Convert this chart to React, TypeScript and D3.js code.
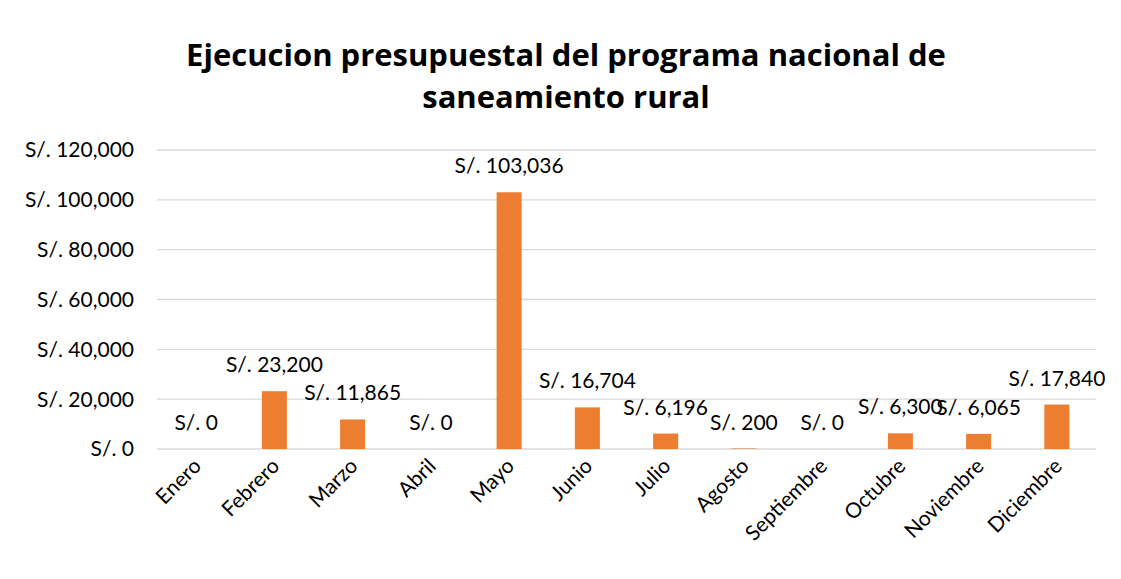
import { useRef, useEffect } from "react";
import * as d3 from "d3";

const months = [
  "Enero", "Febrero", "Marzo", "Abril", "Mayo", "Junio",
  "Julio", "Agosto", "Septiembre", "Octubre", "Noviembre", "Diciembre",
];
const values = [0, 23200, 11865, 0, 103036, 16704, 6196, 200, 0, 6300, 6065, 17840];
const yTicks = [0, 20000, 40000, 60000, 80000, 100000, 120000];
const titleLines = [
  "Ejecucion presupuestal del programa nacional de",
  "saneamiento rural",
];

const W = 1121;
const H = 579;
const FONT = "Lato, 'Open Sans', sans-serif";

const fmt = (v: number) => `S/. ${d3.format(",")(v)}`;

export default function App() {
  const svgRef = useRef<SVGSVGElement>(null);

  useEffect(() => {
    const svg = d3.select(svgRef.current);
    svg.selectAll("*").remove();

    const margin = { top: 150, right: 25, bottom: 130, left: 157 };
    const innerWidth = W - margin.left - margin.right;
    const innerHeight = H - margin.top - margin.bottom;

    // chart background + border
    svg.append("rect")
      .attr("x", 7.5).attr("y", 7.5)
      .attr("width", W - 15).attr("height", H - 8)
      .attr("fill", "#fff")
      .attr("stroke", "#c8c8c8");

    // title
    svg.append("text")
      .attr("x", 566)
      .attr("y", 66)
      .attr("text-anchor", "middle")
      .attr("font-family", "'Open Sans', sans-serif")
      .attr("font-weight", "bold")
      .attr("font-size", 31)
      .attr("fill", "#000")
      .selectAll("tspan")
      .data(titleLines)
      .join("tspan")
      .attr("x", 566)
      .attr("dy", (_, i) => (i === 0 ? 0 : 42))
      .text((d) => d);

    const g = svg.append("g")
      .attr("transform", `translate(${margin.left},${margin.top})`);

    const x = d3.scaleBand<string>()
      .domain(months)
      .range([0, innerWidth])
      .paddingInner(0.68)
      .paddingOuter(0.34);

    const y = d3.scaleLinear()
      .domain([0, 120000])
      .range([innerHeight, 0]);

    // gridlines
    g.append("g")
      .selectAll("line")
      .data(yTicks)
      .join("line")
      .attr("x1", 0)
      .attr("x2", innerWidth)
      .attr("y1", (d) => y(d))
      .attr("y2", (d) => y(d))
      .attr("stroke", "#d9d9d9")
      .attr("stroke-width", 1.3);

    // y labels
    g.append("g")
      .selectAll("text")
      .data(yTicks)
      .join("text")
      .attr("x", -23)
      .attr("y", (d) => y(d))
      .attr("dy", "0.35em")
      .attr("text-anchor", "end")
      .attr("font-family", FONT)
      .attr("font-size", 21)
      .attr("fill", "#000")
      .text((d) => fmt(d));

    // bars
    g.append("g")
      .selectAll("rect")
      .data(values)
      .join("rect")
      .attr("x", (_, i) => x(months[i])!)
      .attr("y", (d) => y(d))
      .attr("width", x.bandwidth())
      .attr("height", (d) => innerHeight - y(d))
      .attr("fill", "#ed7d31");

    // data labels
    g.append("g")
      .selectAll("text")
      .data(values)
      .join("text")
      .attr("x", (_, i) => x(months[i])! + x.bandwidth() / 2)
      .attr("y", (d) => y(d) - 19)
      .attr("text-anchor", "middle")
      .attr("font-family", FONT)
      .attr("font-size", 21)
      .attr("fill", "#000")
      .text((d) => fmt(d));

    // x labels
    g.append("g")
      .selectAll("text")
      .data(months)
      .join("text")
      .attr("transform", (d) =>
        `translate(${x(d)! + x.bandwidth() / 2 - 4},${innerHeight + 8}) rotate(-45)`)
      .attr("text-anchor", "end")
      .attr("dy", "0.7em")
      .attr("font-family", FONT)
      .attr("font-size", 21)
      .attr("fill", "#000")
      .text((d) => d);
  }, []);

  return <svg ref={svgRef} width={W} height={H} style={{ display: "block", margin: -8 }} />;
}
